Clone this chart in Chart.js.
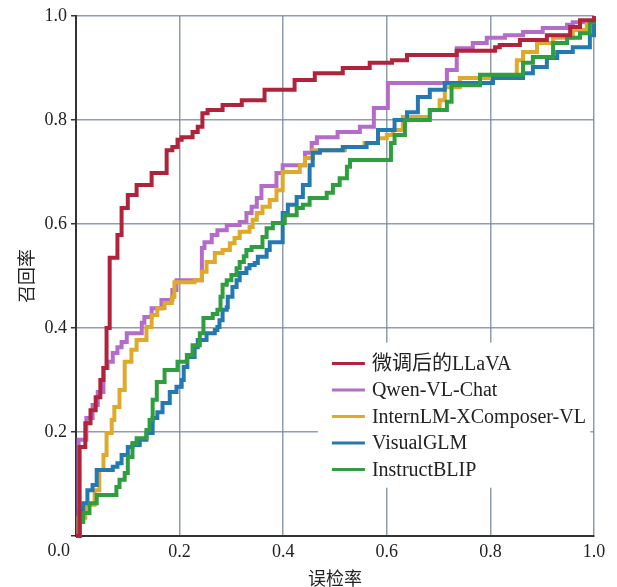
<!DOCTYPE html>
<html>
<head>
<meta charset="utf-8">
<script src="https://cdn.jsdelivr.net/npm/chart.js@4.4.1/dist/chart.umd.min.js"></script>
<style>
  html, body { margin: 0; padding: 0; background: #fff; }
</style>
</head>
<body>
<canvas id="roc" width="617" height="587"></canvas>
<script>
// ROC curves (false positive rate -> recall)
const modelNames = ['微调后的LLaVA', 'Qwen-VL-Chat', 'InternLM-XComposer-VL', 'VisualGLM', 'InstructBLIP'];
const modelColors = ['#b1233b', '#b36cc9', '#dfaa2b', '#2479b3', '#2f9e3f'];

const llavaFpr = [0, 0.007, 0.018, 0.028, 0.038, 0.047, 0.053, 0.059, 0.065, 0.080, 0.088, 0.100, 0.117, 0.146, 0.175, 0.186, 0.196, 0.204, 0.225, 0.235, 0.244, 0.254, 0.283, 0.320, 0.364, 0.422, 0.461, 0.515, 0.567, 0.610, 0.639, 0.735, 0.809, 0.818, 0.857, 0.909, 0.954, 0.973, 1.0];
const llavaTpr = [0, 0.171, 0.217, 0.242, 0.267, 0.300, 0.323, 0.400, 0.535, 0.579, 0.631, 0.656, 0.675, 0.698, 0.742, 0.748, 0.762, 0.767, 0.777, 0.787, 0.813, 0.819, 0.829, 0.838, 0.858, 0.877, 0.890, 0.900, 0.910, 0.915, 0.925, 0.933, 0.940, 0.944, 0.954, 0.963, 0.979, 0.992, 1.0];

const qwenFpr = [0, 0.005, 0.020, 0.032, 0.042, 0.053, 0.061, 0.071, 0.080, 0.088, 0.098, 0.127, 0.132, 0.146, 0.165, 0.186, 0.194, 0.243, 0.248, 0.262, 0.273, 0.291, 0.316, 0.329, 0.339, 0.349, 0.358, 0.387, 0.399, 0.442, 0.455, 0.465, 0.505, 0.548, 0.575, 0.602, 0.716, 0.735, 0.766, 0.793, 0.828, 0.863, 0.901, 0.948, 0.959, 1.0];
const qwenTpr = [0, 0.185, 0.227, 0.252, 0.277, 0.323, 0.335, 0.352, 0.363, 0.373, 0.390, 0.410, 0.421, 0.438, 0.454, 0.473, 0.492, 0.554, 0.565, 0.579, 0.588, 0.598, 0.604, 0.621, 0.633, 0.650, 0.673, 0.698, 0.713, 0.737, 0.756, 0.767, 0.777, 0.787, 0.823, 0.871, 0.896, 0.938, 0.948, 0.958, 0.963, 0.969, 0.977, 0.983, 0.988, 1.0];

const internFpr = [0, 0.005, 0.018, 0.036, 0.045, 0.053, 0.059, 0.069, 0.074, 0.084, 0.094, 0.107, 0.117, 0.136, 0.146, 0.157, 0.171, 0.185, 0.190, 0.229, 0.243, 0.252, 0.268, 0.283, 0.297, 0.306, 0.316, 0.335, 0.341, 0.349, 0.360, 0.374, 0.387, 0.399, 0.432, 0.442, 0.457, 0.519, 0.557, 0.583, 0.600, 0.612, 0.631, 0.683, 0.702, 0.712, 0.741, 0.851, 0.863, 0.890, 0.921, 0.959, 0.986, 1.0];
const internTpr = [0, 0.035, 0.060, 0.088, 0.127, 0.156, 0.198, 0.223, 0.248, 0.281, 0.335, 0.358, 0.377, 0.402, 0.425, 0.438, 0.448, 0.460, 0.488, 0.492, 0.508, 0.527, 0.544, 0.550, 0.563, 0.573, 0.585, 0.594, 0.608, 0.621, 0.633, 0.646, 0.665, 0.700, 0.713, 0.727, 0.742, 0.748, 0.756, 0.765, 0.771, 0.781, 0.806, 0.819, 0.838, 0.863, 0.881, 0.915, 0.931, 0.948, 0.958, 0.973, 0.988, 1.0];

const glmFpr = [0, 0.007, 0.014, 0.022, 0.032, 0.040, 0.071, 0.080, 0.088, 0.100, 0.109, 0.123, 0.136, 0.148, 0.157, 0.167, 0.181, 0.194, 0.204, 0.208, 0.215, 0.229, 0.235, 0.252, 0.268, 0.273, 0.277, 0.283, 0.291, 0.293, 0.302, 0.310, 0.316, 0.329, 0.335, 0.345, 0.351, 0.368, 0.374, 0.399, 0.409, 0.426, 0.438, 0.451, 0.457, 0.471, 0.515, 0.561, 0.583, 0.615, 0.639, 0.660, 0.683, 0.712, 0.805, 0.863, 0.882, 0.909, 0.929, 0.959, 0.992, 1.0];
const glmTpr = [0, 0.050, 0.063, 0.088, 0.098, 0.127, 0.133, 0.140, 0.156, 0.171, 0.175, 0.185, 0.198, 0.227, 0.238, 0.256, 0.277, 0.287, 0.300, 0.325, 0.344, 0.363, 0.377, 0.390, 0.396, 0.402, 0.415, 0.435, 0.440, 0.460, 0.479, 0.492, 0.506, 0.515, 0.521, 0.525, 0.537, 0.550, 0.565, 0.621, 0.637, 0.652, 0.675, 0.713, 0.737, 0.742, 0.748, 0.756, 0.781, 0.800, 0.815, 0.844, 0.858, 0.871, 0.881, 0.890, 0.902, 0.919, 0.931, 0.940, 0.963, 1.0];

const blipFpr = [0, 0.007, 0.014, 0.026, 0.040, 0.078, 0.084, 0.094, 0.100, 0.109, 0.117, 0.136, 0.142, 0.148, 0.156, 0.171, 0.196, 0.214, 0.225, 0.239, 0.246, 0.264, 0.273, 0.279, 0.283, 0.291, 0.300, 0.310, 0.316, 0.324, 0.329, 0.339, 0.360, 0.368, 0.380, 0.403, 0.426, 0.438, 0.451, 0.484, 0.496, 0.509, 0.523, 0.529, 0.608, 0.615, 0.635, 0.683, 0.716, 0.725, 0.780, 0.863, 0.882, 0.921, 0.948, 0.973, 0.992, 1.0];
const blipTpr = [0, 0.027, 0.044, 0.063, 0.079, 0.094, 0.108, 0.121, 0.152, 0.179, 0.188, 0.204, 0.223, 0.262, 0.296, 0.319, 0.335, 0.348, 0.367, 0.390, 0.419, 0.427, 0.435, 0.460, 0.483, 0.492, 0.502, 0.515, 0.527, 0.538, 0.550, 0.556, 0.575, 0.592, 0.602, 0.617, 0.631, 0.637, 0.650, 0.660, 0.675, 0.688, 0.710, 0.723, 0.756, 0.771, 0.800, 0.819, 0.835, 0.867, 0.887, 0.910, 0.921, 0.948, 0.958, 0.967, 0.988, 1.0];

const serif = "'Liberation Serif', 'Times New Roman', 'Noto Sans CJK SC', serif";
const gridColor = 'rgba(125, 140, 155, 0.85)';
const axisColor = '#333';

const curves = [
  [llavaFpr, llavaTpr],
  [qwenFpr, qwenTpr],
  [internFpr, internTpr],
  [glmFpr, glmTpr],
  [blipFpr, blipTpr],
];

// dataset 0 is drawn on top, so keep LLaVA first and push Qwen to the back
const drawOrder = [0, 4, 3, 2, 1];

const datasets = drawOrder.map(i => ({
  label: modelNames[i],
  data: curves[i][0].map((x, k) => ({ x, y: curves[i][1][k] })),
  borderColor: modelColors[i],
  borderWidth: 4,
  stepped: 'before',
  pointRadius: 0,
  fill: false,
  clip: 4,
}));

// legend sits inside the plot, lower right, on a white box
const insideLegend = {
  id: 'insideLegend',
  beforeDatasetsDraw(chart) {
    const { ctx, scales: { x, y } } = chart;
    const left = x.getPixelForValue(0.467), right = x.getPixelForValue(0.993);
    const top = y.getPixelForValue(0.372), bottom = y.getPixelForValue(0.093);
    ctx.save();
    ctx.fillStyle = '#fff';
    ctx.fillRect(left, top, right - left, bottom - top);
    ctx.font = '20px ' + serif;
    ctx.textBaseline = 'middle';
    ctx.textAlign = 'left';
    modelNames.forEach((name, i) => {
      const rowY = top + 21 + i * 26.5;
      ctx.strokeStyle = modelColors[i];
      ctx.lineWidth = 3;
      ctx.beginPath();
      ctx.moveTo(left + 14, rowY);
      ctx.lineTo(left + 47, rowY);
      ctx.stroke();
      ctx.fillStyle = '#222';
      ctx.fillText(name, left + 54, rowY + 1);
    });
    ctx.restore();
  },
  afterDraw(chart) {
    // shared origin label "0.0" below the corner
    const { ctx, scales: { x, y } } = chart;
    ctx.save();
    ctx.font = '18px ' + serif;
    ctx.fillStyle = '#222';
    ctx.textAlign = 'right';
    ctx.textBaseline = 'middle';
    ctx.fillText('0.0', x.left - 6, y.bottom + 15);
    ctx.restore();
  }
};

const tickLabel = v => (v === 0 ? '' : v.toFixed(1));

new Chart(document.getElementById('roc'), {
  type: 'line',
  data: { datasets },
  plugins: [insideLegend],
  options: {
    responsive: false,
    animation: false,
    layout: { padding: { top: 16, right: 23, left: 0, bottom: 0 } },
    plugins: {
      legend: { display: false },
      tooltip: { enabled: false },
    },
    scales: {
      x: {
        type: 'linear',
        min: 0,
        max: 1,
        ticks: { stepSize: 0.2, color: '#222', padding: 5, font: { family: serif, size: 18 }, callback: tickLabel },
        grid: { color: gridColor, lineWidth: 1.5, drawTicks: false },
        border: { color: axisColor, width: 2 },
        title: { display: true, text: '误检率', color: '#222', font: { family: serif, size: 18 }, padding: { top: 0, bottom: -4 } },
        afterFit: s => { s.height = 51; },
      },
      y: {
        type: 'linear',
        min: 0,
        max: 1,
        ticks: { stepSize: 0.2, color: '#222', padding: 4, font: { family: serif, size: 18 }, callback: tickLabel },
        grid: { color: gridColor, lineWidth: 1.5, drawTicks: true, tickLength: 5, tickColor: axisColor, tickWidth: 1.5 },
        border: { color: axisColor, width: 2 },
        title: { display: true, text: '召回率', color: '#222', font: { family: serif, size: 18 }, padding: { top: 17, bottom: 0 } },
        afterFit: s => { s.width = 76; },
      },
    },
  },
});
</script>
</body>
</html>
